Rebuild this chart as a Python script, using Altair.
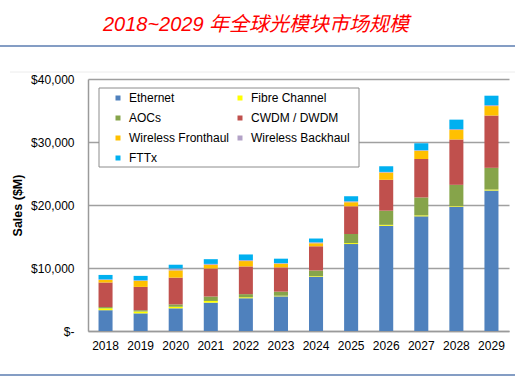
import altair as alt
import pandas as pd

years = [str(y) for y in range(2018, 2030)]
series = ["Ethernet", "Fibre Channel", "AOCs", "CWDM / DWDM",
          "Wireless Fronthaul", "Wireless Backhaul", "FTTx"]
colors = ["#4F81BD", "#FFFF00", "#86A44A", "#C0504D",
          "#FFC000", "#B3A2C7", "#00B0F0"]
# legend is laid out column by column, so list entries in column-major order
legend_order = [0, 2, 4, 6, 1, 3, 5]

ethernet = [3300, 2800, 3600, 4500, 5200, 5500, 8600, 13800, 16700, 18200, 19700, 22300]
fibre = [300, 300, 250, 270, 150, 100, 100, 150, 150, 150, 100, 150]
aocs = [200, 200, 370, 700, 500, 650, 900, 1450, 2250, 2850, 3400, 3450]
cwdm = [3900, 3700, 4250, 4450, 4400, 3850, 3850, 4400, 4900, 6100, 7200, 8300]
fronthaul = [400, 950, 1150, 580, 850, 580, 480, 640, 1150, 1300, 1500, 1500]
backhaul = [100, 100, 300, 150, 150, 100, 150, 150, 100, 100, 150, 150]
fttx = [700, 700, 600, 750, 900, 700, 600, 800, 900, 1100, 1500, 1500]

y_ticks = [0, 10000, 20000, 30000, 40000]
title_text = "2018~2029 年全球光模块市场规模"

rows = []
for i, (name, vals) in enumerate(zip(series, [ethernet, fibre, aocs, cwdm, fronthaul, backhaul, fttx])):
    for yr, v in zip(years, vals):
        rows.append({"year": yr, "segment": name, "value": v, "idx": i})
df = pd.DataFrame(rows)
one = pd.DataFrame({"k": [0]})

dom = [series[i] for i in legend_order]
rng = [colors[i] for i in legend_order]

W, H = 421, 252
PL, PT = 88, 79
FONT = "Liberation Sans, Arial, Noto Sans CJK SC"

bars = alt.Chart(df).mark_bar(stroke=None).encode(
    x=alt.X("year:N", sort=years,
            scale=alt.Scale(paddingInner=0.6, paddingOuter=0.3),
            axis=alt.Axis(title=None, labelAngle=0, ticks=False, labelPadding=9,
                          domainColor="#9a9a9a", domainWidth=1.5,
                          labelFontSize=12, labelColor="#000", labelFont=FONT)),
    y=alt.Y("value:Q", stack="zero",
            scale=alt.Scale(domain=[0, 40000], nice=False),
            axis=alt.Axis(title="Sales ($M)", values=y_ticks, ticks=False,
                          labelExpr="datum.value == 0 ? '$-' : '$' + format(datum.value, ',')",
                          labelPadding=14, labelFontSize=12, labelColor="#000", labelFont=FONT,
                          domainColor="#9a9a9a", domainWidth=1.5,
                          grid=True, gridColor="#a0a0a0", gridWidth=1.5,
                          titleFont=FONT, titleFontSize=12.5, titleFontWeight="bold",
                          titleColor="#000", titleAngle=270, titleX=-71, titleY=126,
                          titleAlign="center", titleBaseline="middle")),
    color=alt.Color("segment:N",
                    scale=alt.Scale(domain=dom, range=rng),
                    legend=alt.Legend(title=None, orient="none", legendX=24, legendY=13,
                                      columns=2, columnPadding=4, rowPadding=8,
                                      symbolType="square", symbolSize=25,
                                      symbolStrokeWidth=0, labelOffset=5,
                                      labelFontSize=12, labelFont=FONT, labelColor="#000",
                                      padding=0, labelLimit=200)),
    order=alt.Order("idx:Q", sort="ascending"),
)

legend_box = alt.Chart(one).mark_rect(fill="white", stroke="#8c8c8c", strokeWidth=1).encode(
    x=alt.value(11), x2=alt.value(271), y=alt.value(9), y2=alt.value(88)
)

top_line = alt.Chart(one).mark_rule(color="#5B7DB1", strokeWidth=1.5).encode(
    x=alt.value(-PL), x2=alt.value(515 - PL), y=alt.value(46 - PT)
)
bottom_line = alt.Chart(one).mark_rule(color="#5B7DB1", strokeWidth=1.5).encode(
    x=alt.value(-PL), x2=alt.value(515 - PL), y=alt.value(375 - PT)
)
faint_line = alt.Chart(one).mark_rule(color="#ececec", strokeWidth=1).encode(
    x=alt.value(10 - PL), x2=alt.value(515 - PL), y=alt.value(72 - PT)
)

title = alt.Chart(one).mark_text(
    text=title_text, font="Liberation Sans, Noto Sans CJK SC", fontSize=20,
    fontStyle="italic", color="#FF0000", align="center", baseline="middle"
).encode(x=alt.value(256 - PL), y=alt.value(25 - PT))

chart = alt.layer(top_line, bottom_line, faint_line, bars, legend_box, title).properties(
    width=W, height=H,
    autosize=alt.AutoSizeParams(type="none"),
    padding={"left": PL, "top": PT, "right": 515 - PL - W, "bottom": 377 - PT - H},
    background="white",
).configure_view(stroke=None)

chart.save("out.html", embed_options={"renderer": "svg", "actions": False})
